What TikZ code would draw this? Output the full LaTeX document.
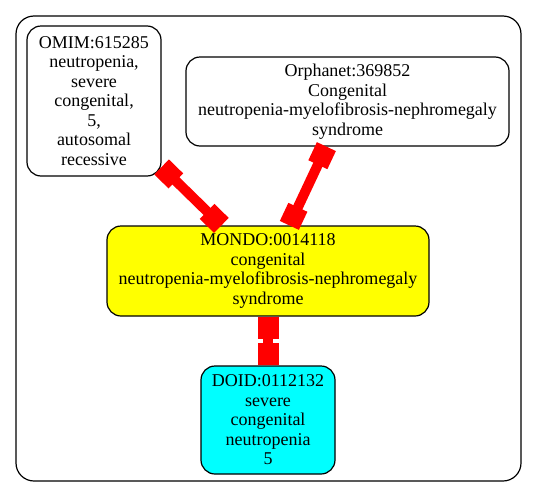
\documentclass[tikz,border=0pt]{standalone}
\usepackage{fontspec}
\setmainfont{Liberation Serif}
\usetikzlibrary{arrows.meta}
\definecolor{mondoyellow}{RGB}{255,255,0}
\definecolor{doidcyan}{RGB}{0,255,255}
\definecolor{teered}{RGB}{255,0,0}

\begin{document}
\begin{tikzpicture}[x=1pt, y=-1pt,
  font=\fontsize{18}{19.5}\selectfont,
  term/.style={draw, line width=1.2pt, rounded corners=14pt, align=center, inner sep=0pt},
  tee/.style={draw=teered, line width=10pt,
              {Rectangle[length=20pt,width=21pt]}-{Rectangle[length=20pt,width=21pt]}},
  teeshort/.style={draw=teered, line width=10pt,
              {Rectangle[length=22pt,width=21pt]}-{Rectangle[length=22pt,width=21pt]}}
]
\useasboundingbox (0,0) rectangle (536,501);
% cluster
\draw[line width=1.2pt, rounded corners=18pt] (16,16) rectangle (521,481);
\node[term, minimum width=134pt, minimum height=150pt] (omim) at (94,101)
  {OMIM:615285\\neutropenia,\\severe\\congenital,\\5,\\autosomal\\recessive};
\node[term, minimum width=323pt, minimum height=89pt] (orpha) at (347.5,101.5)
  {Orphanet:369852\\Congenital\\neutropenia-myelofibrosis-nephromegaly\\syndrome};
\node[term, fill=mondoyellow, minimum width=322pt, minimum height=90pt] (mondo) at (268,271)
  {MONDO:0014118\\congenital\\neutropenia-myelofibrosis-nephromegaly\\syndrome};
\node[term, fill=doidcyan, minimum width=134pt, minimum height=108pt] (doid) at (268,420)
  {DOID:0112132\\severe\\congenital\\neutropenia\\5};
\draw[tee] (omim) -- (mondo);
\draw[tee] (orpha) -- (mondo);
\draw[teeshort] (mondo) -- (doid);
\end{tikzpicture}
\end{document}
